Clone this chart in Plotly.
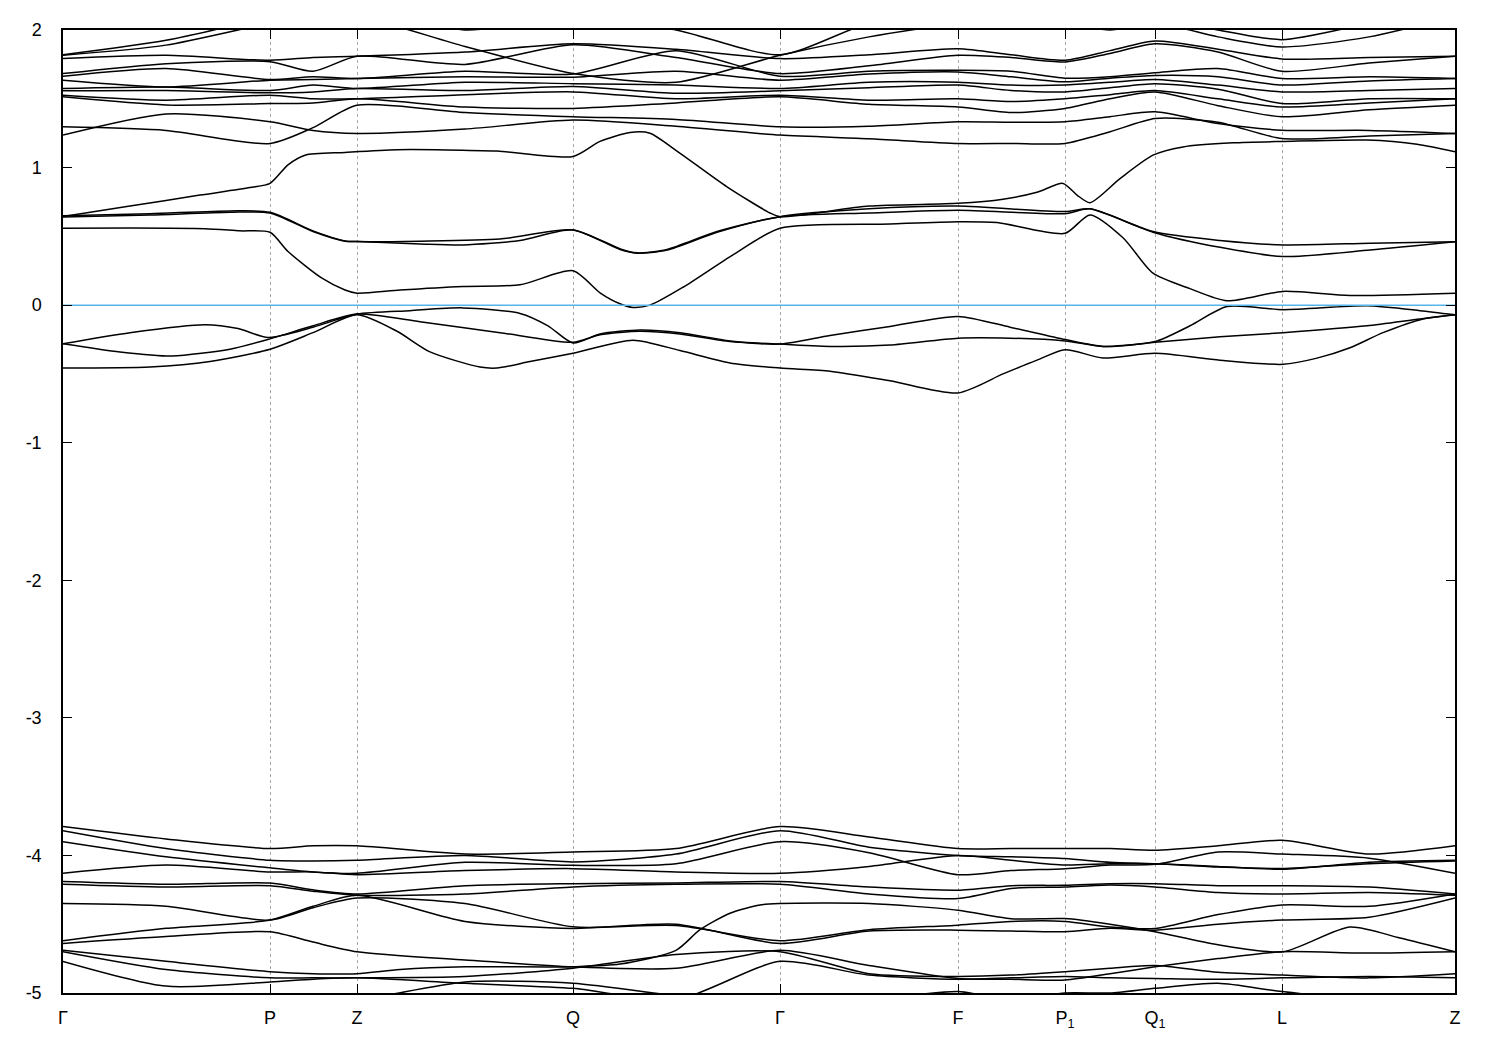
import plotly.graph_objects as go

# ---------------- data ----------------
# k-path positions (arbitrary path units) of the high-symmetry points
K_HS = [0, 207, 294, 510, 717, 895, 1002, 1092, 1219, 1392]
HS_LABELS = ["Γ", "P", "Z", "Q", "Γ", "F", "P<sub>1</sub>", "Q<sub>1</sub>", "L", "Z"]

# energy axis ticks
E_TICKS = [-5, -4, -3, -2, -1, 0, 1, 2]
E_TICK_LABELS = ["-5", "-4", "-3", "-2", "-1", "0", "1", "2"]

# common sampling grid (high-symmetry points + segment midpoints)
K_GRID = [0, 103, 207, 250, 294, 402, 510, 613, 717, 806, 895, 948, 1002, 1047, 1092, 1155, 1219, 1306, 1392]

# ---- bands near the gap (own k-knots) ----
A1_K = [0, 67, 142, 175, 205, 250, 294, 347, 400, 457, 485, 510, 537, 577, 617, 667, 717, 767, 827, 895,
        947, 1002, 1040, 1092, 1127, 1164, 1220, 1304, 1357, 1392]
A1_E = [-0.28, -0.2, -0.142, -0.17, -0.235, -0.16, -0.065, -0.04, -0.02, -0.06, -0.15, -0.275, -0.21, -0.18,
        -0.20, -0.26, -0.283, -0.22, -0.155, -0.082, -0.16, -0.25, -0.30, -0.265, -0.15, -0.01, -0.033,
        -0.005, -0.04, -0.07]

A2_K = [0, 57, 109, 167, 207, 250, 294, 357, 437, 510, 537, 577, 617, 667, 717, 770, 827, 895, 947, 1002,
        1040, 1092, 1157, 1220, 1304, 1357, 1392]
A2_E = [-0.28, -0.34, -0.37, -0.32, -0.245, -0.15, -0.065, -0.12, -0.2, -0.27, -0.215, -0.19, -0.21,
        -0.265, -0.283, -0.30, -0.29, -0.24, -0.24, -0.26, -0.30, -0.27, -0.23, -0.2, -0.15, -0.1, -0.07]

A3_K = [0, 87, 147, 207, 250, 294, 334, 367, 417, 434, 467, 510, 570, 617, 667, 717, 767, 827, 895, 940,
        974, 1002, 1040, 1092, 1157, 1220, 1254, 1287, 1320, 1360, 1392]
A3_E = [-0.457, -0.45, -0.41, -0.32, -0.2, -0.07, -0.19, -0.34, -0.45, -0.457, -0.41, -0.35, -0.255, -0.33,
        -0.42, -0.457, -0.48, -0.55, -0.638, -0.5, -0.4, -0.324, -0.384, -0.35, -0.4, -0.43, -0.385, -0.31,
        -0.2, -0.1, -0.07]

B1_K = [0, 67, 142, 177, 207, 225, 259, 282, 294, 337, 400, 457, 510, 537, 557, 570, 587, 620, 670, 717,
        827, 895, 934, 1002, 1027, 1060, 1090, 1127, 1164, 1220, 1287, 1392]
B1_E = [0.559, 0.56, 0.555, 0.54, 0.53, 0.39, 0.196, 0.11, 0.087, 0.11, 0.136, 0.148, 0.25, 0.09, 0.01,
        -0.017, 0.0, 0.13, 0.366, 0.559, 0.59, 0.607, 0.60, 0.522, 0.656, 0.49, 0.232, 0.12, 0.032, 0.1,
        0.07, 0.087]

B2_K = [0, 87, 167, 207, 250, 282, 294, 357, 437, 510, 557, 574, 604, 654, 717, 806, 895, 1002, 1027,
        1090, 1157, 1220, 1307, 1392]
B2_E = [0.65, 0.665, 0.685, 0.675, 0.54, 0.467, 0.462, 0.465, 0.48, 0.547, 0.41, 0.377, 0.40, 0.53,
        0.643, 0.67, 0.69, 0.665, 0.70, 0.535, 0.47, 0.438, 0.45, 0.46]

B3_K = [0, 87, 167, 207, 250, 282, 294, 357, 400, 457, 510, 557, 574, 604, 654, 717, 806, 895, 1002,
        1027, 1090, 1157, 1220, 1307, 1392]
B3_E = [0.64, 0.655, 0.675, 0.67, 0.535, 0.465, 0.462, 0.445, 0.438, 0.47, 0.547, 0.405, 0.38, 0.405,
        0.535, 0.643, 0.70, 0.72, 0.68, 0.70, 0.53, 0.42, 0.353, 0.40, 0.46]

B4_K = [0, 67, 137, 187, 207, 225, 242, 282, 334, 434, 510, 537, 567, 587, 614, 664, 707, 717, 806, 895,
        940, 974, 1000, 1014, 1027, 1057, 1090, 1120, 1170, 1220, 1304, 1354, 1392]
B4_E = [0.645, 0.72, 0.80, 0.855, 0.885, 1.02, 1.09, 1.11, 1.13, 1.12, 1.08, 1.19, 1.255, 1.25, 1.12,
        0.86, 0.67, 0.643, 0.72, 0.74, 0.77, 0.82, 0.885, 0.80, 0.745, 0.92, 1.09, 1.15, 1.18, 1.19, 1.2,
        1.17, 1.115]

D10_K = [0, 103, 207, 250, 294, 337, 402, 510, 557, 613, 637, 667, 697, 717, 806, 895, 948, 1002, 1047,
         1092, 1155, 1220, 1287, 1337, 1392]
D10_E = [-4.69, -4.77, -4.845, -4.86, -4.86, -4.83, -4.81, -4.809, -4.79, -4.69, -4.54, -4.42, -4.36,
         -4.35, -4.35, -4.398, -4.46, -4.459, -4.50, -4.555, -4.65, -4.70, -4.52, -4.60, -4.70]

# ---- upper conduction bands on K_GRID ----
U1 = [1.236, 1.39, 1.333, 1.27, 1.248, 1.28, 1.345, 1.30, 1.236, 1.21, 1.175, 1.175, 1.175, 1.26, 1.357, 1.33, 1.211, 1.23, 1.248]
U2 = [1.296, 1.27, 1.175, 1.29, 1.453, 1.40, 1.37, 1.35, 1.296, 1.30, 1.333, 1.33, 1.333, 1.37, 1.405, 1.32, 1.272, 1.27, 1.248]
U3 = [1.514, 1.455, 1.465, 1.47, 1.50, 1.44, 1.43, 1.47, 1.514, 1.46, 1.44, 1.40, 1.43, 1.50, 1.55, 1.45, 1.369, 1.42, 1.453]
U4 = [1.526, 1.49, 1.526, 1.50, 1.50, 1.53, 1.55, 1.50, 1.526, 1.49, 1.50, 1.48, 1.50, 1.53, 1.56, 1.50, 1.44, 1.47, 1.50]
U5 = [1.558, 1.56, 1.543, 1.55, 1.575, 1.56, 1.59, 1.54, 1.558, 1.58, 1.60, 1.56, 1.55, 1.58, 1.61, 1.57, 1.465, 1.50, 1.50]
U6 = [1.575, 1.586, 1.56, 1.60, 1.575, 1.62, 1.61, 1.60, 1.575, 1.62, 1.62, 1.60, 1.60, 1.62, 1.64, 1.60, 1.55, 1.56, 1.575]
U7 = [1.635, 1.586, 1.635, 1.64, 1.647, 1.66, 1.657, 1.70, 1.635, 1.68, 1.695, 1.66, 1.623, 1.65, 1.67, 1.66, 1.60, 1.63, 1.647]
U8 = [1.664, 1.72, 1.64, 1.66, 1.647, 1.70, 1.68, 1.85, 1.664, 1.70, 1.707, 1.70, 1.65, 1.66, 1.69, 1.72, 1.647, 1.66, 1.647]
U9 = [1.683, 1.755, 1.77, 1.70, 1.809, 1.75, 1.893, 1.80, 1.683, 1.74, 1.816, 1.80, 1.768, 1.83, 1.90, 1.84, 1.70, 1.76, 1.809]
U10 = [1.792, 1.816, 1.78, 1.80, 1.809, 1.84, 1.90, 1.86, 1.792, 1.82, 1.864, 1.82, 1.78, 1.85, 1.92, 1.86, 1.79, 1.80, 1.809]
U11 = [1.816, 1.89, 2.05, 2.1, 2.1, 1.88, 1.683, 1.62, 1.816, 1.95, 2.05, 2.1, 2.05, 2.0, 2.05, 1.95, 1.877, 1.95, 2.1]
U12 = [1.82, 1.925, 2.1, 2.2, 2.2, 2.0, 2.1, 2.0, 1.82, 2.05, 2.15, 2.2, 2.1, 2.1, 2.1, 2.0, 1.93, 2.05, 2.2]

# ---- deep valence bands on K_GRID ----
D1 = [-3.79, -3.88, -3.95, -3.93, -3.93, -3.99, -3.975, -3.95, -3.79, -3.866, -3.95, -3.95, -3.95, -3.95, -3.963, -3.93, -3.89, -3.99, -3.93]
D2 = [-3.82, -3.95, -4.035, -4.04, -4.035, -4.00, -4.047, -3.99, -3.82, -3.94, -4.00, -4.01, -4.023, -4.05, -4.06, -4.08, -4.10, -4.05, -4.035]
D3 = [-3.90, -4.01, -4.09, -4.12, -4.13, -4.05, -4.072, -4.06, -3.90, -3.98, -4.14, -4.11, -4.096, -4.07, -4.065, -3.975, -3.99, -4.02, -4.13]
D4 = [-4.13, -4.07, -4.12, -4.12, -4.14, -4.11, -4.096, -4.12, -4.13, -4.08, -4.00, -4.035, -4.07, -4.06, -4.06, -4.085, -4.095, -4.06, -4.04]
D5 = [-4.19, -4.21, -4.20, -4.25, -4.28, -4.22, -4.205, -4.20, -4.19, -4.23, -4.253, -4.22, -4.217, -4.205, -4.205, -4.22, -4.22, -4.23, -4.28]
D6 = [-4.21, -4.23, -4.22, -4.26, -4.29, -4.28, -4.229, -4.21, -4.21, -4.28, -4.313, -4.24, -4.23, -4.215, -4.229, -4.27, -4.28, -4.27, -4.29]
D7 = [-4.35, -4.37, -4.47, -4.38, -4.31, -4.35, -4.519, -4.51, -4.62, -4.54, -4.507, -4.48, -4.48, -4.52, -4.531, -4.43, -4.36, -4.37, -4.28]
D8 = [-4.62, -4.53, -4.47, -4.37, -4.29, -4.48, -4.531, -4.50, -4.64, -4.55, -4.543, -4.55, -4.555, -4.53, -4.543, -4.50, -4.47, -4.45, -4.31]
D9 = [-4.64, -4.59, -4.555, -4.63, -4.70, -4.76, -4.81, -4.82, -4.69, -4.80, -4.894, -4.90, -4.906, -4.86, -4.81, -4.75, -4.70, -4.71, -4.70]
D11 = [-4.70, -4.83, -4.89, -4.89, -4.89, -4.88, -4.82, -4.72, -4.70, -4.86, -4.88, -4.87, -4.845, -4.82, -4.80, -4.85, -4.87, -4.89, -4.86]
D12 = [-4.77, -4.95, -4.92, -4.90, -4.89, -4.93, -4.966, -5.05, -4.77, -4.87, -4.90, -4.89, -4.88, -4.89, -4.894, -4.90, -4.89, -4.88, -4.89]
D13 = [-5.1, -5.08, -5.05, -5.05, -5.05, -4.92, -4.93, -5.02, -5.1, -5.05, -4.99, -5.05, -5.0, -5.0, -4.966, -4.93, -4.99, -5.05, -5.05]

FERMI_E = 0.0

# ---------------- figure ----------------
fig = go.Figure()

custom_bands = [(A1_K, A1_E), (A2_K, A2_E), (A3_K, A3_E), (B1_K, B1_E), (B2_K, B2_E),
                (B3_K, B3_E), (B4_K, B4_E), (D10_K, D10_E)]
grid_bands = [U1, U2, U3, U4, U5, U6, U7, U8, U9, U10, U11, U12,
              D1, D2, D3, D4, D5, D6, D7, D8, D9, D11, D12, D13]

line_style = dict(color="black", width=1.5, shape="spline", smoothing=0.7)

for ks, es in custom_bands:
    fig.add_trace(go.Scatter(x=ks, y=es, mode="lines", line=line_style,
                             hoverinfo="skip", showlegend=False))
for es in grid_bands:
    fig.add_trace(go.Scatter(x=K_GRID, y=es, mode="lines", line=line_style,
                             hoverinfo="skip", showlegend=False))

# Fermi level
fig.add_trace(go.Scatter(x=[K_HS[0], K_HS[-1]], y=[FERMI_E, FERMI_E], mode="lines",
                         line=dict(color="#56b4e9", width=1.5),
                         hoverinfo="skip", showlegend=False))

axis_common = dict(
    showline=True, linecolor="black", linewidth=1.5, mirror="ticks",
    ticks="inside", ticklen=9, tickwidth=1.2, tickcolor="black",
    zeroline=False,
    tickfont=dict(family="Liberation Sans, Arial, sans-serif", size=18, color="black"),
)

fig.update_xaxes(
    range=[K_HS[0], K_HS[-1]], tickmode="array", tickvals=K_HS, ticktext=HS_LABELS,
    showgrid=True, gridcolor="#a8a8a8", gridwidth=1, griddash="dot",
    ticklabelstandoff=8, **axis_common)
fig.update_yaxes(
    range=[-5, 2], tickmode="array", tickvals=E_TICKS, ticktext=E_TICK_LABELS,
    showgrid=False, ticklabelstandoff=16, **axis_common)

fig.update_layout(
    width=1492, height=1042,
    margin=dict(l=55, r=45, t=20, b=57),
    plot_bgcolor="white", paper_bgcolor="white",
    showlegend=False,
)

fig.write_html("out.html")
